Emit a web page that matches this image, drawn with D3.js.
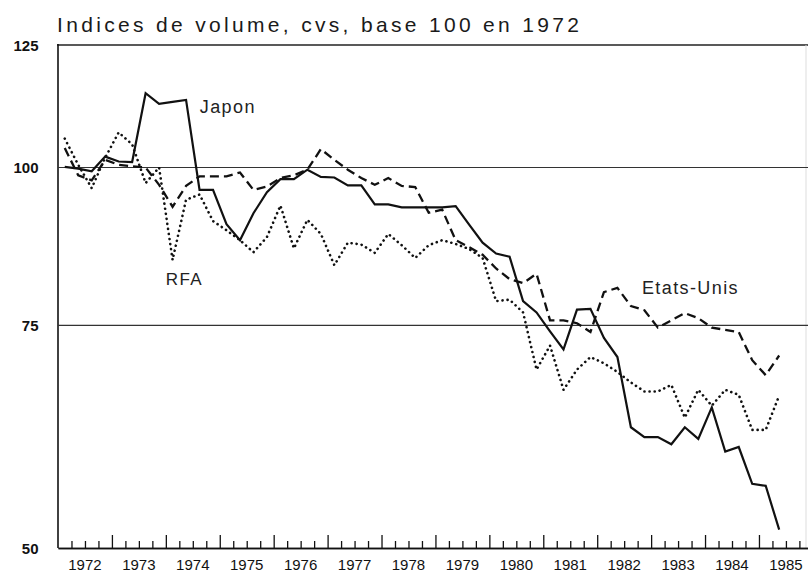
<!DOCTYPE html>
<html><head><meta charset="utf-8">
<script src="https://cdn.jsdelivr.net/npm/d3@7/dist/d3.min.js"></script>
<style>
html,body{margin:0;padding:0;background:#fff;}
svg{display:block;font-family:"Liberation Sans",Arial,Helvetica,sans-serif;}
</style></head>
<body>
<svg id="chart" width="808" height="574"></svg>
<script>
// ---- data ----
const title = "Indices de volume, cvs, base 100 en 1972";
const yearLabels = [1972,1973,1974,1975,1976,1977,1978,1979,1980,1981,1982,1983,1984,1985];
const yTicks = [50, 75, 100, 125];
const gridValues = [75, 100];
// quarterly periods, 1972 T1 ... 1985 T2
const quarters = [
 "1972T1","1972T2","1972T3","1972T4","1973T1","1973T2","1973T3","1973T4",
 "1974T1","1974T2","1974T3","1974T4","1975T1","1975T2","1975T3","1975T4",
 "1976T1","1976T2","1976T3","1976T4","1977T1","1977T2","1977T3","1977T4",
 "1978T1","1978T2","1978T3","1978T4","1979T1","1979T2","1979T3","1979T4",
 "1980T1","1980T2","1980T3","1980T4","1981T1","1981T2","1981T3","1981T4",
 "1982T1","1982T2","1982T3","1982T4","1983T1","1983T2","1983T3","1983T4",
 "1984T1","1984T2","1984T3","1984T4","1985T1","1985T2"];
const japon = [
 100.1, 99.8, 99.3, 102.0, 101.1, 101.0, 114.5, 112.3,
 112.7, 113.1, 96.0, 96.0, 90.2, 87.6, 92.0, 95.6,
 97.9, 97.9, 99.6, 98.3, 98.2, 96.8, 96.8, 93.5,
 93.5, 93.0, 93.0, 93.0, 93.0, 93.2, 90.1, 87.2,
 85.5, 85.0, 78.4, 76.8, 74.2, 71.8, 77.2, 77.3,
 73.3, 70.8, 62.3, 61.2, 61.2, 60.4, 62.3, 61.0,
 64.6, 59.6, 60.1, 56.2, 56.0, 51.7];
const etatsUnis = [
 103.6, 98.6, 97.7, 101.4, 100.5, 100.2, 100.0, 96.9,
 93.1, 96.7, 98.4, 98.4, 98.4, 99.1, 96.0, 96.6,
 98.1, 98.6, 99.6, 103.4, 101.4, 99.6, 98.1, 96.9,
 98.1, 96.7, 96.5, 92.1, 92.6, 87.6, 86.5, 85.3,
 83.2, 81.6, 81.0, 82.4, 75.7, 75.7, 75.3, 74.1,
 79.7, 80.3, 77.7, 77.1, 74.7, 75.7, 76.7, 76.0,
 74.7, 74.4, 74.1, 70.4, 68.5, 71.0];
const rfa = [
 105.4, 100.5, 96.3, 101.8, 106.6, 104.3, 97.2, 100.0,
 84.5, 94.3, 95.2, 90.7, 89.2, 87.6, 85.7, 88.1,
 93.3, 86.3, 90.9, 88.6, 83.7, 87.2, 86.9, 85.6,
 88.6, 86.8, 84.8, 86.8, 87.6, 87.0, 86.2, 84.8,
 78.4, 78.6, 76.8, 69.2, 72.3, 66.7, 69.2, 70.8,
 70.0, 68.9, 67.6, 66.5, 66.5, 67.3, 63.4, 66.7,
 64.8, 66.7, 66.1, 62.0, 62.0, 66.0];
const seriesNames = ["Japon", "RFA", "Etats-Unis"];
// label anchors (time, value)
const labelAnchors = [[1974.63, 110.4], [1974.0, 80.7], [1982.83, 79.4]];

// ---- drawing ----
const svg = d3.select("#chart");
const W = 808, H = 574;
const x = d3.scaleLinear().domain([1972, 1986]).range([58, 58 + 14 * 53.92]);
const y = d3.scaleLog().domain([50, 125]).range([548, 45]);
const tOf = q => +q.slice(0, 4) + (+q.slice(5) - 0.5) / 4;

// title
svg.append("text").attr("x", 57).attr("y", 32)
  .attr("font-size", 21).attr("fill", "#1a1a1a")
  .attr("textLength", 522).attr("lengthAdjust", "spacing")
  .text(title);

// frame
svg.append("line").attr("x1", 57).attr("x2", W).attr("y1", y(125)).attr("y2", y(125))
  .attr("stroke", "#222").attr("stroke-width", 1.6);
svg.append("line").attr("x1", 806).attr("x2", 806).attr("y1", y(125)).attr("y2", y(50))
  .attr("stroke", "#ddd").attr("stroke-width", 1);
svg.append("line").attr("x1", x(1972)).attr("x2", x(1972)).attr("y1", y(125) - 1).attr("y2", y(50))
  .attr("stroke", "#111").attr("stroke-width", 1.6);

// grid
svg.selectAll("line.grid").data(gridValues).join("line").attr("class", "grid")
  .attr("x1", x(1972)).attr("x2", W).attr("y1", d => y(d)).attr("y2", d => y(d))
  .attr("stroke", "#333").attr("stroke-width", 1.1);

// y tick labels
svg.selectAll("text.ytl").data(yTicks).join("text").attr("class", "ytl")
  .attr("x", 38.5).attr("y", d => y(d) + 5.5).attr("text-anchor", "end")
  .attr("font-size", 15).attr("fill", "#111").attr("font-weight", "bold")
  .text(d => d);

// x axis (ticks upward)
const minorTicks = d3.range(1972.25, 1986, 0.25).filter(t => Math.abs(t - Math.round(t)) > 1e-6);
const majorTicks = d3.range(1973, 1986, 1);
const gx = svg.append("g").attr("transform", `translate(0,${y(50)})`);
gx.call(d3.axisBottom(x).tickValues(minorTicks).tickSizeInner(-7).tickSizeOuter(0).tickFormat(""));
const gx2 = svg.append("g").attr("transform", `translate(0,${y(50)})`);
gx2.call(d3.axisBottom(x).tickValues(majorTicks).tickSizeInner(-13).tickSizeOuter(0).tickFormat(""));
[gx, gx2].forEach(g => {
  g.selectAll(".tick line").attr("stroke", "#111").attr("stroke-width", 1.3);
  g.select(".domain").attr("stroke", "#111").attr("stroke-width", 1.6);
});
svg.selectAll("text.xtl").data(yearLabels).join("text").attr("class", "xtl")
  .attr("x", d => x(d + 0.5)).attr("y", 570).attr("text-anchor", "middle")
  .attr("font-size", 15).attr("fill", "#111").text(d => d);

// lines
const line = d3.line().x(d => x(d[0])).y(d => y(d[1]));
const mk = arr => quarters.map((q, i) => [tOf(q), arr[i]]);
svg.append("path").datum(mk(rfa)).attr("d", line).attr("fill", "none")
  .attr("stroke", "#111").attr("stroke-width", 2.6).attr("stroke-linecap", "round")
  .attr("stroke-dasharray", "0.1 5");
svg.append("path").datum(mk(etatsUnis)).attr("d", line).attr("fill", "none")
  .attr("stroke", "#111").attr("stroke-width", 2.3).attr("stroke-dasharray", "9 5");
svg.append("path").datum(mk(japon)).attr("d", line).attr("fill", "none")
  .attr("stroke", "#111").attr("stroke-width", 2.2).attr("stroke-linejoin", "miter");

// series labels
svg.selectAll("text.sl").data(seriesNames).join("text").attr("class", "sl")
  .attr("x", (d, i) => x(labelAnchors[i][0])).attr("y", (d, i) => y(labelAnchors[i][1]))
  .attr("font-size", (d, i) => i === 1 ? 17 : 18).attr("letter-spacing", 1.4)
  .attr("fill", "#222").text(d => d);
</script>
</body></html>
